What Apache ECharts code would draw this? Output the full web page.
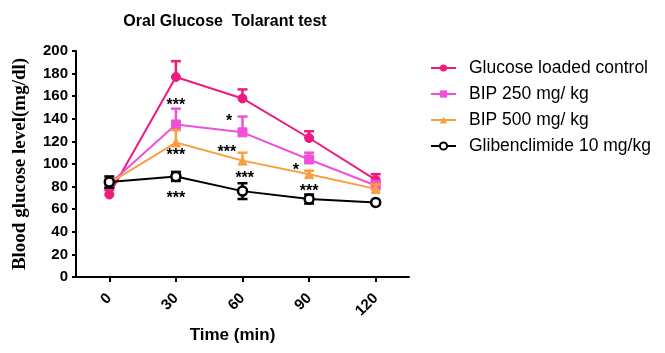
<!DOCTYPE html>
<html>
<head>
<meta charset="utf-8">
<script src="https://cdn.jsdelivr.net/npm/echarts@6/dist/echarts.min.js"></script>
<style>
  html, body { margin: 0; padding: 0; background: #fff; }
  #chart { width: 665px; height: 353px; }
</style>
</head>
<body>
<div id="chart"></div>
<script>
// time points (min)
const times = [0, 30, 60, 90, 120];
const xTicks = [0, 30, 60, 90, 120];

const seriesNames = ['Glucose loaded control', 'BIP 250 mg/ kg', 'BIP 500 mg/ kg', 'Glibenclimide 10 mg/kg'];

// mean blood glucose (mg/dl) and SEM
const glucoseMean = [73, 177, 158, 123, 86];
const glucoseErr = [4, 14, 8, 6, 5];
const bip250Mean = [82, 135, 128, 104, 81];
const bip250Err = [4, 14, 14, 6, 4];
const bip500Mean = [83, 119, 103, 91, 78];
const bip500Err = [4, 11, 7, 3, 4];
const glibMean = [84, 89, 76, 69, 66];
const glibErr = [5, 4, 7, 4, 0];

// significance marks (time, level, text)
const sigX = [30, 30, 30, 54, 53, 61, 84, 90];
const sigY = [155, 111, 73, 141, 114, 91, 98, 79];
const sigText = ['***', '***', '***', '*', '***', '***', '*', '***'];

const colors = ['#ee1a7e', '#f050d8', '#f8a040', '#000000'];
const font = 'Liberation Sans, Arial, sans-serif';

const chart = echarts.init(document.getElementById('chart'));

const errorBars = (color, means, errs, both, z) => ({
  type: 'custom',
  z: z,
  silent: true,
  data: times.map((t, i) => [t, means[i], errs[i]]),
  renderItem: (params, api) => {
    const x = api.value(0), m = api.value(1), e = api.value(2);
    if (!e) return null;
    const top = api.coord([x, m + e]);
    const bot = api.coord([x, both ? m - e : m]);
    const hw = 5;
    const st = { stroke: color, lineWidth: 2.5 };
    const kids = [
      { type: 'line', shape: { x1: top[0], y1: top[1], x2: bot[0], y2: bot[1] }, style: st },
      { type: 'line', shape: { x1: top[0] - hw, y1: top[1], x2: top[0] + hw, y2: top[1] }, style: st },
    ];
    if (both) {
      kids.push({ type: 'line', shape: { x1: bot[0] - hw, y1: bot[1], x2: bot[0] + hw, y2: bot[1] }, style: st });
    }
    return { type: 'group', children: kids };
  },
});

const lineSeries = (name, means, color, symbol, z, extra) => Object.assign({
  name: name,
  type: 'line',
  z: z,
  data: times.map((t, i) => [t, means[i]]),
  symbol: symbol,
  symbolSize: 9,
  lineStyle: { color: color, width: 2 },
  itemStyle: { color: color, borderColor: color },
  emphasis: { disabled: true },
}, extra || {});

chart.setOption({
  animation: false,
  title: {
    text: 'Oral Glucose  Tolarant test',
    left: 220,
    top: 9,
    textAlign: 'center',
    textStyle: { fontFamily: font, fontSize: 16, fontWeight: 'bold', color: '#000' },
  },
  legend: {
    orient: 'vertical',
    left: 430,
    top: 59,
    padding: 0,
    itemWidth: 25,
    itemHeight: 9,
    itemGap: 8,
    data: seriesNames,
    textStyle: { fontFamily: font, fontSize: 17.5, color: '#000', padding: [0, 0, 0, 8] },
  },
  grid: { left: 76, right: 256, top: 51, bottom: 76 },
  xAxis: {
    type: 'value',
    min: -15,
    max: 135,
    name: 'Time (min)',
    nameLocation: 'middle',
    nameGap: 50,
    nameTextStyle: { fontFamily: font, fontSize: 17, fontWeight: 'bold', color: '#000', padding: [0, 20, 0, 0] },
    splitLine: { show: false },
    axisLine: { onZero: false, lineStyle: { color: '#000', width: 2 } },
    axisTick: { show: true, customValues: xTicks, length: 5, lineStyle: { color: '#000', width: 2 } },
    axisLabel: {
      customValues: xTicks,
      rotate: 45,
      margin: 19,
      fontFamily: font,
      fontSize: 15,
      fontWeight: 'bold',
      color: '#000',
    },
  },
  yAxis: {
    type: 'value',
    min: 0,
    max: 200,
    interval: 20,
    name: 'Blood glucose level(mg/dl)',
    nameLocation: 'middle',
    nameGap: 46,
    nameTextStyle: { fontFamily: 'Liberation Serif, Times New Roman, serif', fontSize: 19, fontWeight: 'bold', color: '#000' },
    splitLine: { show: false },
    axisLine: { show: true, onZero: false, lineStyle: { color: '#000', width: 2 } },
    axisTick: { show: true, length: 4, lineStyle: { color: '#000', width: 2 } },
    axisLabel: { margin: 8, fontFamily: font, fontSize: 15, fontWeight: 'bold', color: '#000' },
  },
  series: [
    errorBars(colors[0], glucoseMean, glucoseErr, false, 2),
    lineSeries(seriesNames[0], glucoseMean, colors[0], 'circle', 3),
    errorBars(colors[1], bip250Mean, bip250Err, false, 4),
    lineSeries(seriesNames[1], bip250Mean, colors[1], 'rect', 5),
    errorBars(colors[2], bip500Mean, bip500Err, false, 6),
    lineSeries(seriesNames[2], bip500Mean, colors[2], 'triangle', 7),
    errorBars(colors[3], glibMean, glibErr, true, 8),
    lineSeries(seriesNames[3], glibMean, colors[3], 'circle', 9, {
      itemStyle: { color: '#fff', borderColor: '#000', borderWidth: 2.5 },
    }),
    {
      type: 'custom',
      z: 10,
      silent: true,
      data: sigX.map((x, i) => [x, sigY[i], i]),
      renderItem: (params, api) => {
        const p = api.coord([api.value(0), api.value(1)]);
        return {
          type: 'text',
          x: p[0],
          y: p[1] + 4,
          style: {
            text: sigText[api.value(2)],
            font: 'bold 16px Liberation Sans, Arial, sans-serif',
            fill: '#000',
            align: 'center',
            verticalAlign: 'middle',
          },
        };
      },
    },
  ],
});
</script>
</body>
</html>
